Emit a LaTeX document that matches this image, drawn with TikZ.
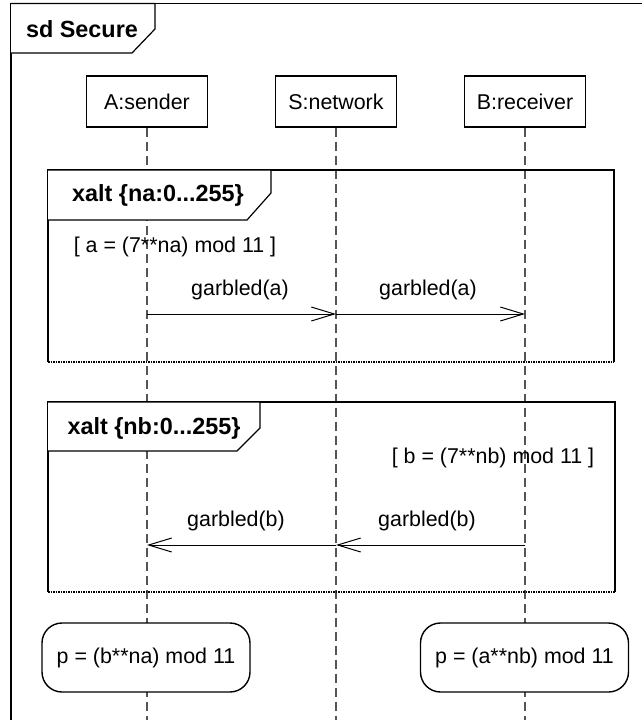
\documentclass[tikz,border=0pt]{standalone}
\usepackage{fontspec}
\setmainfont{Liberation Sans}
\usetikzlibrary{arrows.meta}
\definecolor{lifegray}{RGB}{85,85,85}
\tikzset{
  txt/.style={inner sep=0pt, font=\fontsize{21.4pt}{25pt}\selectfont},
  btxt/.style={inner sep=0pt, font=\fontsize{23.4pt}{28pt}\selectfont\bfseries},
  part/.style={draw, line width=1.2pt, fill=white, minimum width=121pt, minimum height=51pt, inner sep=0pt, font=\fontsize{21.4pt}{25pt}\selectfont},
  lifeline/.style={draw=lifegray, line width=1.1pt, dash pattern=on 9pt off 5pt},
  framebox/.style={line width=1.2pt},
  framebottom/.style={line width=1.2pt, dash pattern=on 1.5pt off 1pt},
  tag/.style={line width=1.2pt, fill=white},
  msg/.style={line width=1pt, -{Straight Barb[length=23pt,width=14pt,line width=1pt]}},
  calcbox/.style={draw, line width=1.4pt, fill=white, rounded corners=20pt, minimum width=208pt, minimum height=69pt, inner sep=0pt, font=\fontsize{21.4pt}{25pt}\selectfont},
}
\begin{document}
\begin{tikzpicture}[x=1pt,y=-1pt]
\useasboundingbox (0,0) rectangle (642,720);
\clip (0,0) rectangle (642,720);
% outer frame
\draw[framebox] (11,730) -- (11,3.5) -- (660,3.5);
\draw[tag] (11,3.5) -- (155,3.5) -- (155,29) -- (132,53) -- (11,53);
\node[btxt] (sdlabel) at (82,29) {sd Secure};
% participants
\node[part] (A) at (147,101.5) {A:sender};
\node[part] (S) at (336,101.5) {S:network};
\node[part] (B) at (525,101.5) {B:receiver};
\coordinate (Aend) at (147,730);
\coordinate (Send) at (336,730);
\coordinate (Bend) at (525,730);
\draw[lifeline] (A.south) -- (Aend);
\draw[lifeline] (S.south) -- (Send);
\draw[lifeline] (B.south) -- (Bend);
% frame 1
\draw[framebox] (48,362) -- (48,170) -- (614,170) -- (614,362);
\draw[framebottom] (48,362) -- (614,362);
\draw[tag] (48,170) -- (271,170) -- (271,193) -- (247,220) -- (48,220);
\node[btxt] (x1) at (158,195) {xalt \{na:0...255\}};
\node[txt] (g1) at (175,247) {[ a = (7**na) mod 11 ]};
\coordinate (a1) at (147,314);
\coordinate (s1) at (336,314);
\coordinate (b1) at (525,314);
\draw[msg] (a1) -- (s1);
\draw[msg] (s1) -- (b1);
\node[txt] (m1) at (240,290) {garbled(a)};
\node[txt] (m2) at (428,290) {garbled(a)};
% frame 2
\draw[framebox] (48,592) -- (48,402) -- (615,402) -- (615,592);
\draw[framebottom] (48,592) -- (615,592);
\draw[tag] (48,402) -- (260,402) -- (260,428) -- (237,451) -- (48,451);
\node[btxt] (x2) at (154,428) {xalt \{nb:0...255\}};
\node[txt] (g2) at (493,458) {[ b = (7**nb) mod 11 ]};
\coordinate (a2) at (147,545);
\coordinate (s2) at (336,545);
\coordinate (b2) at (525,545);
\draw[msg] (b2) -- (s2);
\draw[msg] (s2) -- (a2);
\node[txt] (m3) at (236,521) {garbled(b)};
\node[txt] (m4) at (427,521) {garbled(b)};
% computations
\node[calcbox] (pA) at (146,657.5) {p = (b**na) mod 11};
\node[calcbox] (pB) at (524.5,657.5) {p = (a**nb) mod 11};
\end{tikzpicture}
\end{document}
